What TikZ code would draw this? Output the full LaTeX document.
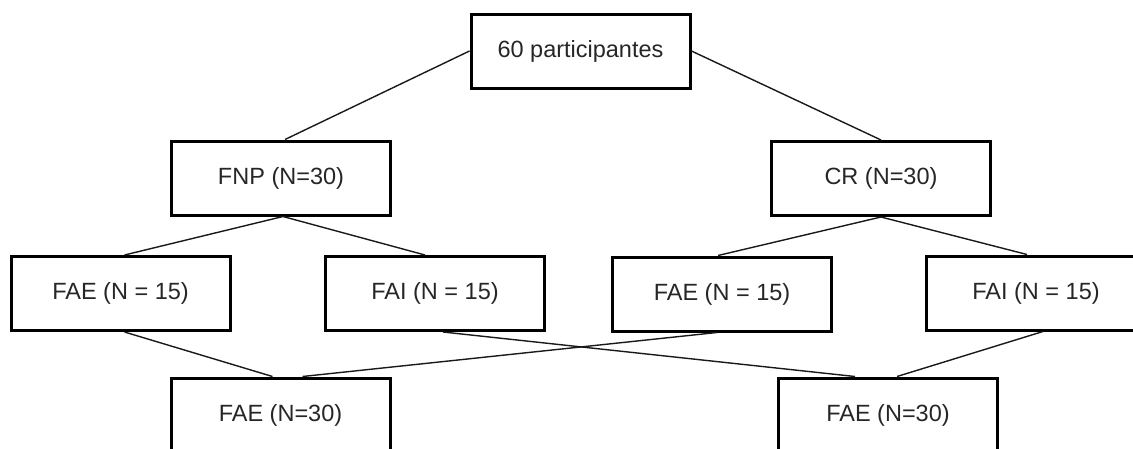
\documentclass[tikz,border=0pt]{standalone}
\usepackage{fontspec}
\setmainfont{Liberation Sans}
\begin{document}
\begin{tikzpicture}[x=1pt,y=-1pt,
  box/.style={draw=black,line width=3pt,minimum width=219pt,minimum height=74pt,inner sep=0pt,font=\fontsize{23.5}{28}\selectfont,text=black!85},
  link/.style={draw=black!90,line width=1.4pt}]
\useasboundingbox (0,0) rectangle (1133,448);
\clip (0,0) rectangle (1133,448);
\node[box] (top) at (580.5,51) {60 participantes};
\node[box] (fnp) at (281,178) {FNP (N=30)};
\node[box] (cr) at (881,178.5) {CR (N=30)};
\node[box] (fae1) at (120.5,293.5) {FAE (N = 15)};
\node[box] (fai1) at (435,293.5) {FAI (N = 15)};
\node[box] (fae2) at (722,294) {FAE (N = 15)};
\node[box] (fai2) at (1036,293) {FAI (N = 15)};
\node[box] (bl) at (280.5,415) {FAE (N=30)};
\node[box] (br) at (888,415) {FAE (N=30)};
\draw[link] (top.west) -- ([xshift=4pt]fnp.north);
\draw[link] (top.east) -- (cr.north);
\draw[link] ([xshift=2pt]fnp.south) -- ([xshift=4pt]fae1.north);
\draw[link] ([xshift=2pt]fnp.south) -- ([xshift=-10pt]fai1.north);
\draw[link] (cr.south) -- ([xshift=-4pt]fae2.north);
\draw[link] (cr.south) -- ([xshift=-9pt]fai2.north);
\draw[link] ([xshift=4pt]fae1.south) -- ([xshift=-8pt]bl.north);
\draw[link] ([xshift=-5pt]fae2.south) -- ([xshift=22pt]bl.north);
\draw[link] ([xshift=8pt]fai1.south) -- ([xshift=-33pt]br.north);
\draw[link] ([xshift=7pt]fai2.south) -- ([xshift=9pt]br.north);
\end{tikzpicture}
\end{document}
